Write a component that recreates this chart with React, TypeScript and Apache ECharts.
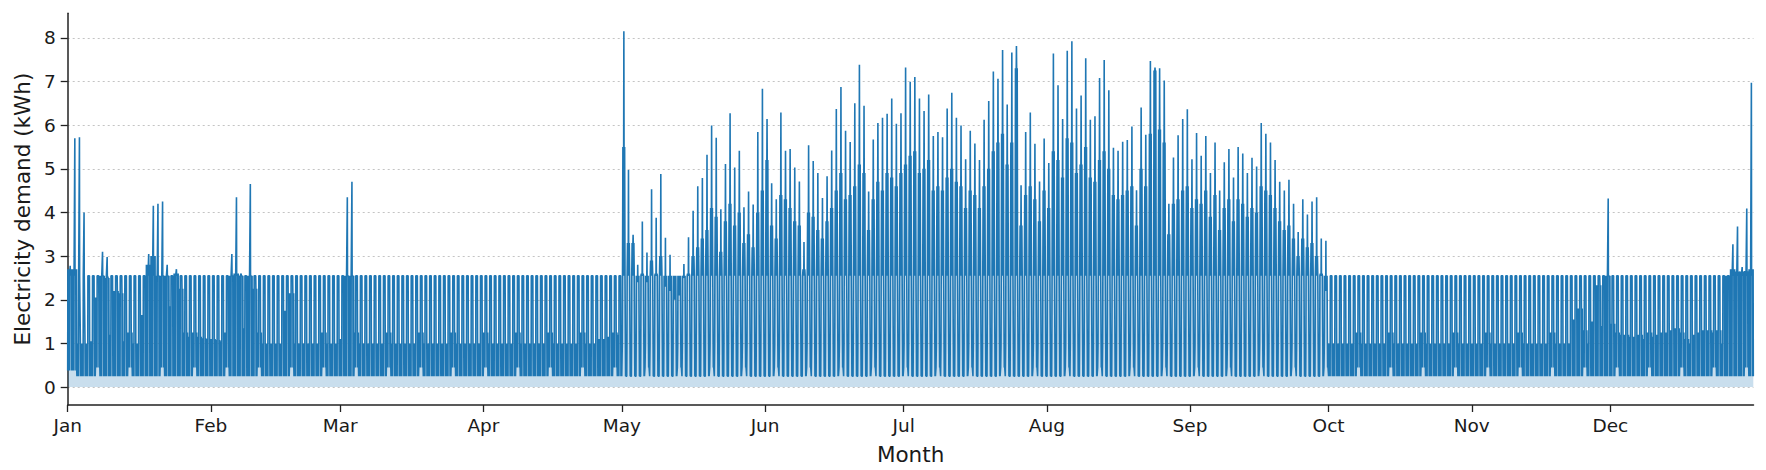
import React, { useEffect, useRef } from "react";
import * as echarts from "echarts";

// ---------- axis data ----------
const monthLabels = ["Jan", "Feb", "Mar", "Apr", "May", "Jun", "Jul", "Aug", "Sep", "Oct", "Nov", "Dec"];
const monthStartDays = [0, 31, 59, 90, 120, 151, 181, 212, 243, 273, 304, 334];
const yTicks = [0, 1, 2, 3, 4, 5, 6, 7, 8];
const DAYS = 365;

// ---------- typical levels (kWh) ----------
const BASE = 0.25; // overnight floor
const BUMP_BASE = 0.45; // weekly raised floor
const MID = 1.0; // top of the dense winter band
const BUMP_HIGH = 1.25; // weekly raised band
const PLATEAU = 2.55; // daily flat block

// weekly days with raised floor
const bumpDays = [
  6, 13, 20, 27, 34, 41, 48, 55, 62, 69, 76, 83, 90, 97, 104, 111, 118, 125, 132, 139, 146, 153, 160, 167,
  174, 181, 188, 195, 202, 209, 216, 223, 230, 237, 244, 251, 258, 265, 272, 279, 286, 293, 300, 307, 314,
  321, 328, 335, 342, 349, 356, 363,
];
const raisedBaseDays: [number, number][] = [
  [0, 0.38],
  [1, 0.38],
];

// cooling season: one value per day from 1 May to 29 Sep
const SUMMER_START = 120;
const summerPeaks = [
  8.15, 4.97, 3.49, 2.8, 3.79, 3.08, 4.53, 3.88, 4.88, 3.42,
  3.03, 2.52, 2.4, 2.82, 3.43, 4.04, 4.6, 4.79, 5.32, 5.99,
  5.71, 4.07, 5.11, 6.27, 5.03, 5.41, 4.12, 4.48, 4.18, 5.84,
  6.83, 6.14, 4.67, 4.3, 6.29, 5.41, 5.45, 5.03, 4.71, 3.32,
  5.54, 5.18, 4.9, 4.33, 4.83, 5.42, 6.37, 6.87, 5.87, 5.61,
  6.5, 7.38, 6.44, 4.48, 5.67, 6.05, 6.17, 6.26, 6.61, 6.03,
  6.27, 7.32, 6.99, 7.1, 6.61, 6.32, 6.7, 5.75, 5.84, 5.72,
  6.38, 6.74, 6.17, 5.99, 5.22, 5.87, 5.58, 5.2, 6.12, 6.55,
  7.23, 7.06, 7.72, 6.47, 7.66, 7.81, 4.62, 5.84, 6.29, 5.57,
  4.71, 5.69, 5.13, 7.64, 6.91, 6.14, 7.7, 7.92, 6.38, 6.68,
  7.53, 6.12, 6.2, 7.08, 7.49, 6.8, 5.48, 5.41, 5.62, 5.66,
  5.97, 4.51, 6.4, 5.78, 7.47, 7.32, 7.3, 7.02, 4.2, 5.26,
  5.77, 6.14, 6.36, 5.22, 5.82, 5.3, 5.75, 4.9, 5.6, 4.5,
  5.15, 5.45, 4.8, 5.5, 5.35, 4.9, 5.25, 5.05, 6.05, 5.8,
  5.6, 5.2, 4.7, 4.5, 4.75, 4.2, 3.55, 4.3, 3.95, 4.25,
  4.35, 3.4, 3.35,
];
const summerHighs = [
  5.5, 3.3, 3.3, 2.4, 2.6, 2.4, 2.9, 2.6, 3.0, 2.3,
  2.2, 2.0, 2.1, 2.5, 2.6, 3.0, 3.2, 3.4, 3.6, 4.1,
  3.9, 3.1, 3.8, 4.2, 3.7, 4.0, 3.3, 3.5, 3.2, 4.0,
  4.5, 5.2, 3.7, 3.4, 4.4, 4.3, 4.1, 3.8, 3.7, 2.7,
  4.0, 3.9, 3.6, 3.4, 3.8, 4.1, 4.5, 4.9, 4.3, 4.4,
  4.6, 5.1, 4.9, 3.6, 4.3, 4.7, 4.5, 4.9, 4.8, 4.6,
  4.9, 5.1, 5.3, 5.4, 4.9, 5.0, 5.2, 4.5, 4.6, 4.5,
  4.8, 5.0, 4.7, 4.6, 4.1, 4.5, 4.4, 4.1, 4.6, 5.0,
  5.4, 5.6, 5.8, 5.1, 5.6, 7.3, 3.7, 4.4, 4.6, 4.3,
  3.8, 4.5, 4.1, 5.4, 5.2, 4.8, 5.7, 5.6, 4.9, 5.1,
  5.5, 4.8, 4.7, 5.2, 5.4, 5.0, 4.4, 4.3, 4.4, 4.5,
  4.6, 3.7, 5.0, 4.6, 5.8, 7.25, 5.9, 5.6, 3.5, 4.2,
  4.3, 4.5, 4.6, 4.1, 4.3, 4.2, 4.5, 3.9, 4.4, 3.6,
  4.1, 4.3, 3.8, 4.3, 4.2, 3.9, 4.1, 4.0, 4.6, 4.5,
  4.4, 4.1, 3.8, 3.6, 3.7, 3.4, 3.0, 3.4, 3.2, 3.3,
  3.0, 2.6, 2.2,
];

// heating-season days that differ from the usual pattern: [day, value]
const winterPeakSpikes: [number, number][] = [
  [0, 2.78], [1, 5.7], [2, 5.72], [3, 4.0], [7, 3.1], [8, 2.98], [17, 3.05], [18, 4.15], [19, 4.2],
  [20, 4.25], [21, 2.8], [23, 2.7], [35, 3.05], [36, 4.35], [37, 2.6], [39, 4.65], [60, 4.35], [61, 4.7],
  [333, 4.32], [360, 3.27], [361, 3.68], [362, 2.75], [363, 4.09], [364, 6.97],
];
const winterHighs: [number, number][] = [
  [0, 2.7], [1, 2.7], [5, 1.05], [6, 2.05], [7, 2.55], [8, 2.5], [9, 1.2], [10, 2.2], [11, 2.15],
  [12, 1.05], [16, 1.65], [17, 2.8], [18, 3.0], [19, 2.55], [20, 2.55], [21, 2.55], [22, 1.85], [23, 2.6],
  [24, 2.25], [25, 1.25], [26, 1.15], [28, 1.15], [29, 1.12], [30, 1.1], [31, 1.1], [32, 1.08], [33, 1.05],
  [35, 2.55], [36, 2.6], [37, 2.55], [38, 1.35], [39, 2.55], [40, 2.25], [47, 1.75], [48, 2.15], [59, 1.1],
  [60, 2.55], [61, 2.55], [115, 1.1], [116, 1.1], [117, 1.15], [119, 1.2], [326, 1.55], [327, 1.8],
  [328, 1.3], [330, 1.5], [331, 2.33], [332, 1.4], [333, 2.55], [334, 1.45], [336, 1.2], [337, 1.2],
  [338, 1.15], [339, 1.15], [340, 1.2], [341, 1.1], [343, 1.15], [344, 1.2], [345, 1.25], [346, 1.25],
  [347, 1.3], [348, 1.35], [350, 1.1], [352, 1.2], [353, 1.25], [354, 1.3], [355, 1.3], [357, 1.3],
  [358, 1.0], [359, 2.55], [360, 2.7], [361, 2.65], [362, 2.65], [363, 2.65], [364, 2.7],
];

// hour-by-hour shape of a day: B floor, M mid, H high, P plateau, K peak
const winterDayShape = ["B", "H", "B", "H", "B", "H", "B", "H", "B", "P", "P", "P", "P", "K", "P", "P", "P", "P", "H", "B", "H", "B", "H", "B"];
const summerDayShape = ["B", "B", "M", "P", "P", "H", "H", "H", "P", "H", "K", "H", "H", "P", "H", "H", "P", "P", "M", "B", "M", "B", "B", "B"];

function buildHourly(): [number, number][] {
  const peak = new Array(DAYS).fill(PLATEAU);
  const high = new Array(DAYS).fill(MID);
  const base = new Array(DAYS).fill(BASE);
  bumpDays.forEach((d) => {
    base[d] = BUMP_BASE;
    high[d] = BUMP_HIGH;
  });
  raisedBaseDays.forEach(([d, v]) => (base[d] = v));
  winterHighs.forEach(([d, v]) => (high[d] = v));
  winterPeakSpikes.forEach(([d, v]) => (peak[d] = v));
  summerPeaks.forEach((v, i) => (peak[SUMMER_START + i] = v));
  summerHighs.forEach((v, i) => (high[SUMMER_START + i] = v));
  const summerEnd = SUMMER_START + summerPeaks.length - 1;
  const pts: [number, number][] = [];
  for (let d = 0; d < DAYS; d++) {
    const shape = d >= SUMMER_START && d <= summerEnd ? summerDayShape : winterDayShape;
    shape.forEach((k, h) => {
      const lv: Record<string, number> = { B: base[d], M: MID, H: high[d], P: PLATEAU, K: Math.max(peak[d], PLATEAU) };
      pts.push([d + h / 24, lv[k]]);
    });
  }
  return pts;
}

const TEXT = "#1a1a1a";
const FONT = "DejaVu Sans";

export default function App() {
  const ref = useRef<HTMLDivElement>(null);
  useEffect(() => {
    if (!ref.current) return;
    const chart = echarts.init(ref.current, undefined, { renderer: "svg" });
    const data = buildHourly();
    chart.setOption({
      animation: false,
      backgroundColor: "#ffffff",
      grid: { left: 67.7, right: 12.5, top: 13.3, bottom: 58.3, containLabel: false },
      xAxis: {
        type: "value",
        min: 0,
        max: DAYS,
        name: "Month",
        nameLocation: "middle",
        nameGap: 38,
        nameTextStyle: { fontSize: 21.5, color: TEXT, fontFamily: FONT },
        axisLine: { show: true, onZero: false, lineStyle: { color: "#222", width: 1.5 } },
        axisTick: { show: true, customValues: monthStartDays, length: 7, lineStyle: { color: "#222", width: 1.3 } },
        axisLabel: {
          customValues: monthStartDays,
          formatter: (v: number) => monthLabels[monthStartDays.indexOf(Math.round(v))] ?? "",
          fontSize: 18.5,
          margin: 11,
          color: TEXT,
          fontFamily: FONT,
        },
        splitLine: { show: false },
      },
      yAxis: {
        type: "value",
        min: -0.41,
        max: 8.56,
        name: "Electricity demand (kWh)",
        nameLocation: "middle",
        nameGap: 34,
        nameTextStyle: { fontSize: 21.5, color: TEXT, fontFamily: FONT },
        axisLine: { show: true, onZero: false, lineStyle: { color: "#222", width: 1.5 } },
        axisTick: { show: true, customValues: yTicks, length: 7, lineStyle: { color: "#222", width: 1.3 } },
        axisLabel: {
          customValues: yTicks,
          formatter: (v: number) => String(Math.round(v)),
          fontSize: 18.5,
          margin: 12,
          color: TEXT,
          fontFamily: FONT,
        },
        splitLine: { show: true, lineStyle: { type: [2, 3], color: "#c4c4c4", width: 1 } },
      },
      series: [
        {
          type: "line",
          data,
          showSymbol: false,
          symbol: "none",
          silent: true,
          clip: true,
          z: 3,
          lineStyle: { color: "#1f77b4", width: 1.6 },
          areaStyle: { color: "#1f77b4", opacity: 0.24, origin: "auto" },
        },
      ],
    });
    return () => chart.dispose();
  }, []);
  return <div ref={ref} style={{ position: "fixed", left: 0, top: 0, width: 1766, height: 470 }} />;
}
